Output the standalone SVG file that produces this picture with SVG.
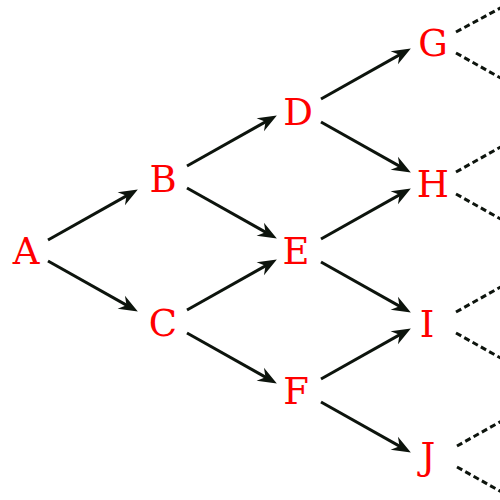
<svg xmlns="http://www.w3.org/2000/svg" width="500" height="500" viewBox="0 0 500 500">
<defs>
<marker id="ah" markerUnits="userSpaceOnUse" orient="auto" viewBox="-12 -9 22 18" refX="0" refY="0" markerWidth="22" markerHeight="18">
<path d="M9,0 L-10,-7.5 L-4,0 L-10,7.5 Z" fill="#0d140d"/>
</marker>
<style>
.n text{font-family:"DejaVu Serif",serif;font-size:37px;fill:#ff0000;text-anchor:middle}
.e{stroke:#0d140d;stroke-width:3;fill:none}
.a{marker-end:url(#ah)}
.d{stroke-dasharray:6,3.5}
</style>
</defs>
<rect width="500" height="500" fill="#fff"/>
<g id="connectors">
<line class="e a" x1="48" y1="240" x2="130" y2="193.9"/>
<line class="e a" x1="48" y1="261" x2="130" y2="307.1"/>
<line class="e a" x1="187" y1="166" x2="269" y2="119.9"/>
<line class="e a" x1="187" y1="188" x2="269" y2="234.1"/>
<line class="e a" x1="187" y1="310" x2="269" y2="263.9"/>
<line class="e a" x1="187" y1="333" x2="269" y2="379.1"/>
<line class="e a" x1="321" y1="99" x2="403" y2="52.9"/>
<line class="e a" x1="321" y1="122" x2="403" y2="168.1"/>
<line class="e a" x1="321" y1="239" x2="403" y2="192.9"/>
<line class="e a" x1="321" y1="262" x2="403" y2="308.1"/>
<line class="e a" x1="321" y1="379" x2="403" y2="332.9"/>
<line class="e a" x1="321" y1="402" x2="403" y2="448.1"/>
<line class="e d" x1="456" y1="32" x2="506" y2="5"/>
<line class="e d" x1="456" y1="53" x2="506" y2="81"/>
<line class="e d" x1="456" y1="172" x2="506" y2="144"/>
<line class="e d" x1="456" y1="194" x2="506" y2="222"/>
<line class="e d" x1="456" y1="312" x2="506" y2="284"/>
<line class="e d" x1="456" y1="333" x2="506" y2="361"/>
<line class="e d" x1="457" y1="446" x2="507" y2="418"/>
<line class="e d" x1="457" y1="467" x2="507" y2="495"/>
</g>
<g id="A" class="n"><text x="26" y="264">A</text></g>
<g id="B" class="n"><text x="163" y="192">B</text></g>
<g id="C" class="n"><text x="163" y="336">C</text></g>
<g id="D" class="n"><text x="298" y="125">D</text></g>
<g id="E" class="n"><text x="296" y="264">E</text></g>
<g id="F" class="n"><text x="296" y="404">F</text></g>
<g id="G" class="n"><text x="433" y="56">G</text></g>
<g id="H" class="n"><text x="433" y="197">H</text></g>
<g id="I" class="n"><text x="427" y="337">I</text></g>
<g id="J" class="n"><text x="428" y="469">J</text></g>
</svg>
